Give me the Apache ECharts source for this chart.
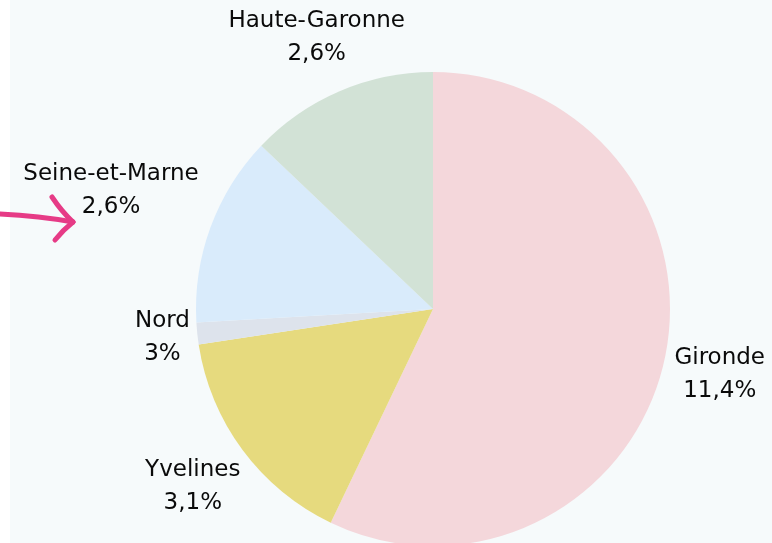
<!DOCTYPE html>
<html>
<head>
<meta charset="utf-8">
<script src="https://cdn.jsdelivr.net/npm/echarts@6/dist/echarts.min.js"></script>
<style>
  html, body { margin: 0; padding: 0; background: #ffffff; }
  #chart { width: 772px; height: 543px; }
</style>
</head>
<body>
<div id="chart"></div>
<script>
const departements = ['Gironde', 'Yvelines', 'Nord', 'Seine-et-Marne', 'Haute-Garonne'];
const shares = [57.1, 15.5, 1.5, 13.0, 12.9];
const rates = ['11,4%', '3,1%', '3%', '2,6%', '2,6%'];
const colors = ['#f4d7db', '#e6da7e', '#dde3ec', '#d9ebfb', '#d2e2d6'];

const cx = 433, cy = 309, radius = 237;
// how far each label sits from the centre
const labelDist = [294, 299, 272, 343, 295];

const total = shares.reduce((a, b) => a + b, 0);
const midAngles = [];
let acc = 0;
shares.forEach(v => {
  midAngles.push((acc + v / 2) / total * Math.PI * 2);
  acc += v;
});

const chart = echarts.init(document.getElementById('chart'));

const arrowStyle = { fill: null, stroke: '#e63b86', lineWidth: 5, lineCap: 'round' };

const option = {
  backgroundColor: '#f6fafb',
  animation: false,
  graphic: [
    { type: 'rect', shape: { x: 0, y: 0, width: 10, height: 543 }, style: { fill: '#ffffff' }, z: 0 },
    { type: 'bezierCurve', z: 10, shape: { x1: 0, y1: 214, cpx1: 40, cpy1: 216, x2: 73, y2: 222 }, style: arrowStyle },
    { type: 'bezierCurve', z: 10, shape: { x1: 52, y1: 197, cpx1: 62, cpy1: 212, x2: 73, y2: 222 }, style: arrowStyle },
    { type: 'bezierCurve', z: 10, shape: { x1: 73, y1: 222, cpx1: 63, cpy1: 230, x2: 55, y2: 240 }, style: arrowStyle }
  ],
  series: [
    {
      type: 'pie',
      center: [cx, cy],
      radius: radius,
      startAngle: 90,
      clockwise: true,
      avoidLabelOverlap: false,
      silent: true,
      data: departements.map((name, i) => ({
        name: name,
        value: shares[i],
        itemStyle: { color: colors[i] }
      })),
      label: {
        show: true,
        position: 'outside',
        formatter: p => p.name + '\n' + rates[p.dataIndex],
        fontFamily: 'DejaVu Sans',
        fontSize: 23,
        lineHeight: 33,
        color: '#0a0a0a'
      },
      labelLine: { show: false },
      labelLayout: function (p) {
        const i = p.dataIndex;
        const a = midAngles[i];
        return {
          x: cx + labelDist[i] * Math.sin(a),
          y: cy - labelDist[i] * Math.cos(a),
          align: 'center',
          verticalAlign: 'middle'
        };
      }
    }
  ]
};

chart.setOption(option);
</script>
</body>
</html>
